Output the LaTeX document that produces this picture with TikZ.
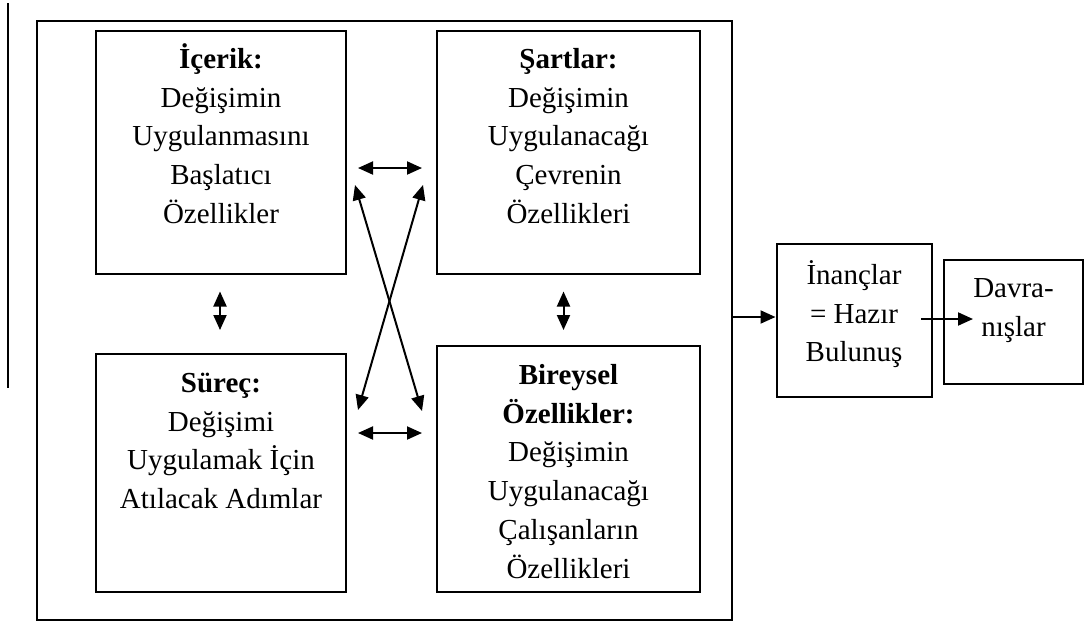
\documentclass[tikz,border=0pt]{standalone}
\usepackage{fontspec}
\setmainfont{Liberation Serif}
\usetikzlibrary{arrows.meta}
\newcommand{\fl}{\rule{0pt}{30pt}}
\tikzset{
  frame/.style={draw, line width=2pt, inner sep=0pt},
  txt/.style={inner sep=0pt, align=center, anchor=north, font=\fontsize{29}{38.8}\selectfont},
  tip/.style={line width=2pt, {Triangle[length=15pt,width=13pt]}-{Triangle[length=15pt,width=13pt]}},
  onetip/.style={line width=2pt, -{Triangle[length=15pt,width=13pt]}}
}
\begin{document}
\begin{tikzpicture}[x=1pt,y=-1pt]
\useasboundingbox (0,0) rectangle (1086,622);
% left rule
\coordinate (l1) at (8,3);
\coordinate (l2) at (8,388);
\draw[line width=1.3pt] (l1) -- (l2);
% outer frame
\node[frame, minimum width=695pt, minimum height=599pt] (outer) at (384.5,320.5) {};
% inner boxes
\node[frame, minimum width=250pt, minimum height=243pt] (b1) at (221,152.5) {};
\node[frame, minimum width=263pt, minimum height=243pt] (b2) at (568.5,152.5) {};
\node[frame, minimum width=250pt, minimum height=238pt] (b3) at (221,473) {};
\node[frame, minimum width=263pt, minimum height=246pt] (b4) at (568.5,469) {};
\node[frame, minimum width=155pt, minimum height=153pt] (b5) at (854,320.5) {};
\node[frame, minimum width=139pt, minimum height=124pt] (b6) at (1013.5,322) {};
% texts
\node[txt] (t1) at (221,38) {\fl\textbf{İçerik:}\\Değişimin\\Uygulanmasını\\Başlatıcı\\Özellikler};
\node[txt] (t2) at (568.5,38) {\fl\textbf{Şartlar:}\\Değişimin\\Uygulanacağı\\Çevrenin\\Özellikleri};
\node[txt] (t3) at (221,362) {\fl\textbf{Süreç:}\\Değişimi\\Uygulamak İçin\\Atılacak Adımlar};
\node[txt] (t4) at (568.5,354) {\fl\textbf{Bireysel}\\\textbf{Özellikler:}\\Değişimin\\Uygulanacağı\\Çalışanların\\Özellikleri};
\node[txt] (t5) at (854,254) {\fl İnançlar\\= Hazır\\Bulunuş};
\node[txt] (t6) at (1013.5,267) {\fl Davra-\\nışlar};
% arrows between boxes
\coordinate (h1a) at (358,168); \coordinate (h1b) at (422,168);
\draw[tip] (h1a) -- (h1b);
\coordinate (h2a) at (358,433); \coordinate (h2b) at (422,433);
\draw[tip] (h2a) -- (h2b);
\coordinate (d1a) at (355,185); \coordinate (d1b) at (422,411);
\draw[tip] (d1a) -- (d1b);
\coordinate (d2a) at (423,185); \coordinate (d2b) at (358,410);
\draw[tip] (d2a) -- (d2b);
\coordinate (v1a) at (220,291.5); \coordinate (v1b) at (220,330);
\draw[tip] (v1a) -- (v1b);
\coordinate (v2a) at (563.5,291.5); \coordinate (v2b) at (563.5,330);
\draw[tip] (v2a) -- (v2b);
% outputs
\coordinate (o1) at (outer.east |- 0,317);
\draw[onetip] (o1) -- (o1 -| b5.west);
\coordinate (o2a) at (921,319); \coordinate (o2b) at (973,319);
\draw[onetip] (o2a) -- (o2b);
\end{tikzpicture}
\end{document}
